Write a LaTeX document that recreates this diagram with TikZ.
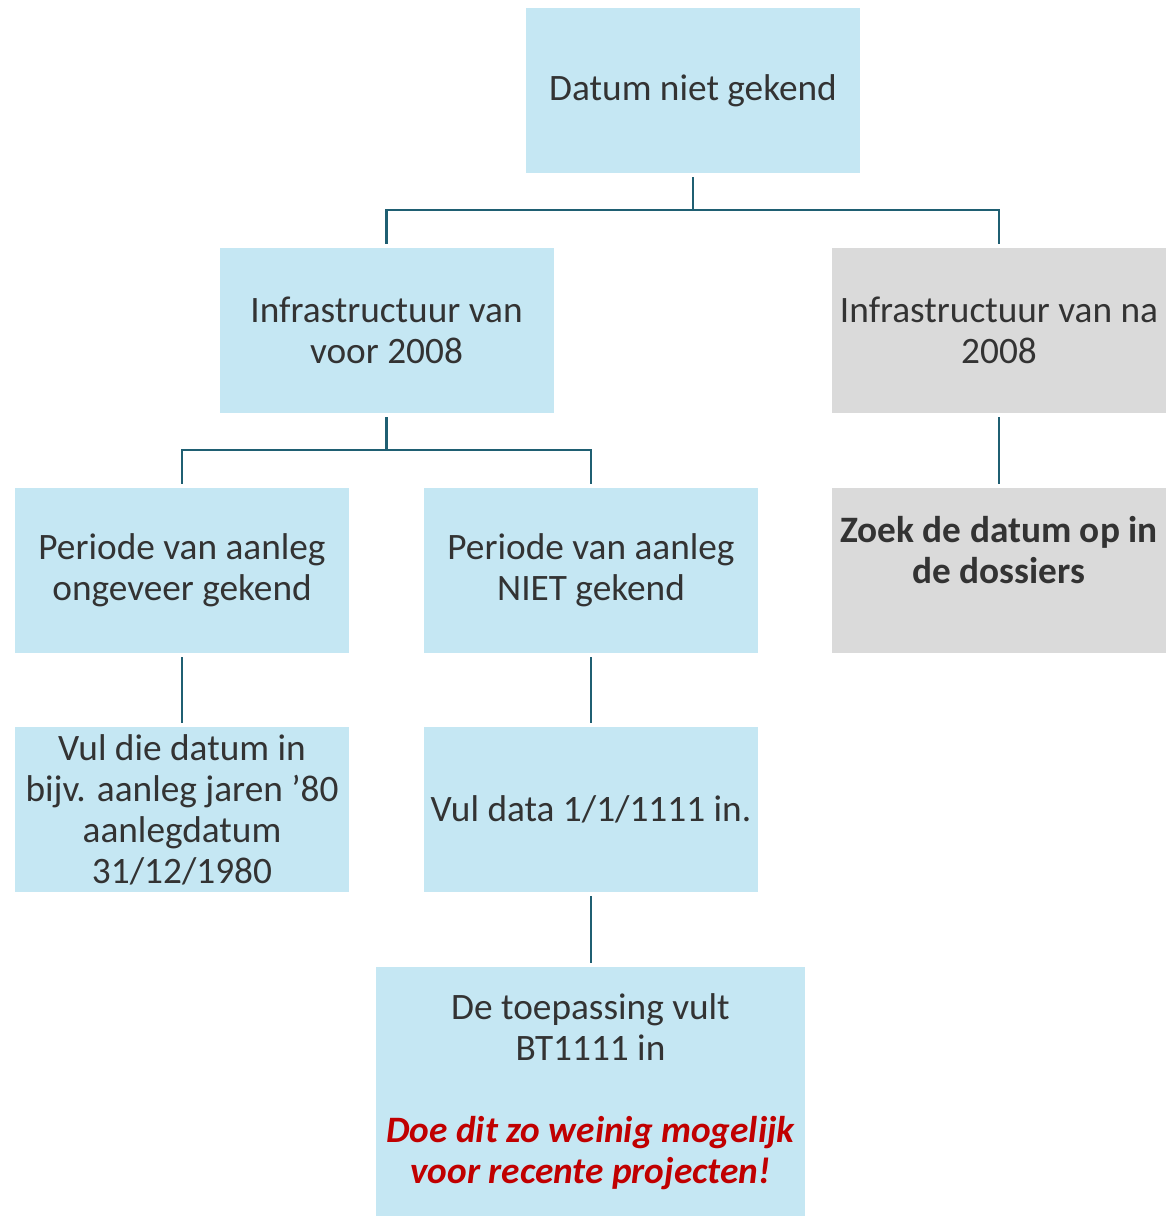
\documentclass[tikz,border=0pt]{standalone}
\usepackage{fontspec}
\setmainfont{Carlito}
\definecolor{boxblue}{HTML}{C5E7F3}
\definecolor{boxgray}{HTML}{DADADA}
\definecolor{txt}{HTML}{333333}
\definecolor{conn}{HTML}{1F5F72}
\definecolor{warnred}{HTML}{C00000}
\begin{document}
\begin{tikzpicture}[x=1pt,y=-1pt,
  box/.style={fill=boxblue,draw=none,minimum width=334pt,minimum height=165pt,
    align=center,text=txt,font=\fontsize{37.3}{41}\selectfont,inner sep=0pt},
  graybox/.style={box,fill=boxgray},
  link/.style={draw=conn,line width=2.6pt}]
\useasboundingbox (0,0) rectangle (1170,1216);
\node[box] (top) at (693,90.5) {Datum niet gekend};
\node[box] (voor) at (386.5,330.5) {Infrastructuur van\\voor 2008};
\node[graybox] (na) at (999,330.5) {Infrastructuur van na\\2008};
\node[box] (ong) at (182,570.5) {Periode van aanleg\\ongeveer gekend};
\node[box] (niet) at (591,570.5) {Periode van aanleg\\NIET gekend};
\node[graybox,font=\fontsize{37.3}{41}\selectfont\bfseries] (zoek) at (999,570.5) {Zoek de datum op in\\de dossiers\\\mbox{}};
\node[box] (vuldie) at (182,809.5) {Vul die datum in\\bijv. aanleg jaren ’80\\aanlegdatum\\31/12/1980};
\node[box] (vuldata) at (591,809.5) {Vul data 1/1/1111 in.};
\node[box,minimum width=429pt,minimum height=249pt] (toep) at (590.5,1091.5)
  {De toepassing vult\\BT1111 in\\\mbox{}\\{\color{warnred}\bfseries\itshape Doe dit zo weinig mogelijk}\\{\color{warnred}\bfseries\itshape voor recente projecten!}};
% connectors
\coordinate (j1) at (693,210);
\draw[link] ([yshift=-4pt]top.south) -- (j1);
\draw[link] ([yshift=4pt]voor.north) |- (j1) -| ([yshift=4pt]na.north);
\coordinate (j2) at (386.5,450);
\draw[link] ([yshift=-4pt]voor.south) -- (j2);
\draw[link] ([yshift=4pt]ong.north) |- (j2) -| ([yshift=4pt]niet.north);
\draw[link] ([yshift=-4pt]na.south) -- ([yshift=4pt]zoek.north);
\draw[link] ([yshift=-4pt]ong.south) -- ([yshift=4pt]vuldie.north);
\draw[link] ([yshift=-4pt]niet.south) -- ([yshift=4pt]vuldata.north);
\draw[link] ([yshift=-4pt]vuldata.south) -- ([yshift=4pt]toep.north-|vuldata.south);
\end{tikzpicture}
\end{document}
